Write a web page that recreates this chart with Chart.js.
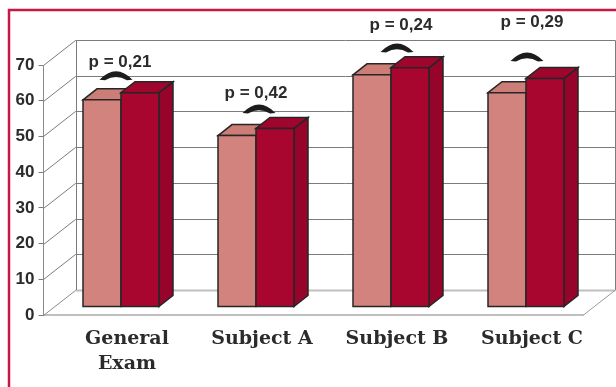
<!DOCTYPE html>
<html>
<head>
<meta charset="utf-8">
<script src="https://cdn.jsdelivr.net/npm/chart.js@4.4.1/dist/chart.umd.min.js"></script>
<style>
  html, body { margin: 0; padding: 0; background: #ffffff; }
  #wrap { width: 616px; height: 387px; position: relative; }
</style>
</head>
<body>
<div id="wrap"><canvas id="chart" width="616" height="387"></canvas></div>
<script>
// Scores per category for the two groups, with the p-value of each comparison
const categories = [['General', 'Exam'], 'Subject A', 'Subject B', 'Subject C'];
const groupLight = [58, 48, 65, 60];
const groupDark = [60, 50, 67, 64];
const pValues = ['p = 0,21', 'p = 0,42', 'p = 0,24', 'p = 0,29'];
const yMin = 0;
const yMax = 70;
const yStep = 10;

// 3D geometry (pixels): back wall offset, bar plane offset, bar depth
const WALL = { dx: 32, dy: -25 };
const BAR_PLANE = { dx: 10, dy: -8 };
const BAR_DEPTH = { dx: 14, dy: -11 };

const COLORS = {
  frame: '#c41a45',
  grid: '#7c7c7c',
  floor: '#bfbfbf',
  outline: '#262626',
  text: '#2b2b2b',
  light: { front: '#d3837d', top: '#cc7d76', side: '#c27068' },
  dark: { front: '#a8062f', top: '#a0052e', side: '#96042b' }
};

function line(ctx, x0, y0, x1, y1, color, width) {
  ctx.beginPath();
  ctx.moveTo(x0, y0);
  ctx.lineTo(x1, y1);
  ctx.strokeStyle = color;
  ctx.lineWidth = width;
  ctx.stroke();
}

function poly(ctx, pts, fill) {
  ctx.beginPath();
  ctx.moveTo(pts[0][0], pts[0][1]);
  for (let i = 1; i < pts.length; i++) ctx.lineTo(pts[i][0], pts[i][1]);
  ctx.closePath();
  ctx.fillStyle = fill;
  ctx.fill();
  ctx.strokeStyle = COLORS.outline;
  ctx.lineWidth = 1.5;
  ctx.stroke();
}

// Draws one bar as a box: front face, top face and (optionally) right face
function drawBox(ctx, x0, x1, yTop, yBase, pal, withSide) {
  const { dx, dy } = BAR_DEPTH;
  if (withSide) {
    poly(ctx, [[x1, yBase], [x1 + dx, yBase + dy], [x1 + dx, yTop + dy], [x1, yTop]], pal.side);
  }
  poly(ctx, [[x0, yTop], [x0 + dx, yTop + dy], [x1 + dx, yTop + dy], [x1, yTop]], pal.top);
  poly(ctx, [[x0, yTop], [x1, yTop], [x1, yBase], [x0, yBase]], pal.front);
}

// Curved bracket above a pair of bars
function drawBracket(ctx, cx, by) {
  ctx.beginPath();
  ctx.moveTo(cx - 16.5, by);
  ctx.quadraticCurveTo(cx, by - 17, cx + 16.5, by);
  ctx.lineTo(cx + 11, by + 0.5);
  ctx.quadraticCurveTo(cx, by - 6, cx - 11, by + 0.5);
  ctx.closePath();
  ctx.fillStyle = '#1c1c1c';
  ctx.fill();
}

const box3d = {
  id: 'box3d',
  beforeDraw(chart) {
    const ctx = chart.ctx;
    ctx.save();
    ctx.fillStyle = '#ffffff';
    ctx.fillRect(0, 0, chart.width, chart.height);
    ctx.restore();
  },
  beforeDatasetsDraw(chart) {
    const ctx = chart.ctx;
    const y = chart.scales.y;
    const area = chart.chartArea;
    const bx0 = area.left + WALL.dx;
    const bx1 = area.right + WALL.dx;
    ctx.save();
    ctx.lineCap = 'butt';
    // back wall gridlines and left wall diagonals
    for (let v = yMin; v <= yMax; v += yStep) {
      const yf = Math.round(y.getPixelForValue(v)) + 0.5;
      const yb = yf + WALL.dy;
      if (v === yMin) {
        line(ctx, bx0, yb, bx1, yb, COLORS.floor, 2);
        line(ctx, area.left, yf, bx0, yb, '#8c8c8c', 1);
      } else {
        line(ctx, bx0, yb, bx1, yb, COLORS.grid, 1);
        line(ctx, area.left, yf, bx0, yb, COLORS.grid, 1);
      }
    }
    const top = Math.round(y.getPixelForValue(yMax)) + 0.5 + WALL.dy;
    const bot = Math.round(y.getPixelForValue(yMin)) + WALL.dy;
    line(ctx, Math.round(bx0) + 0.5, top, Math.round(bx0) + 0.5, bot, COLORS.grid, 1);
    line(ctx, Math.round(bx1) - 0.5, top, Math.round(bx1) - 0.5, bot, COLORS.grid, 1);
    // right edge of the floor
    line(ctx, area.right, area.bottom, bx1, area.bottom + WALL.dy, '#9a9a9a', 1);
    ctx.restore();
  },
  afterDatasetsDraw(chart, args, opts) {
    const ctx = chart.ctx;
    const y = chart.scales.y;
    const light = chart.getDatasetMeta(0).data;
    const dark = chart.getDatasetMeta(1).data;
    ctx.save();
    ctx.lineJoin = 'miter';
    for (let i = 0; i < light.length; i++) {
      const a = light[i].getProps(['x', 'y', 'base', 'width'], true);
      const b = dark[i].getProps(['x', 'y', 'base', 'width'], true);
      const off = (p) => ({
        x0: p.x - p.width / 2 + BAR_PLANE.dx,
        x1: p.x + p.width / 2 + BAR_PLANE.dx,
        top: p.y + BAR_PLANE.dy,
        base: p.base + BAR_PLANE.dy
      });
      const la = off(a), lb = off(b);
      drawBox(ctx, la.x0, la.x1, la.top, la.base, COLORS.light, false);
      drawBox(ctx, lb.x0, lb.x1, lb.top, lb.base, COLORS.dark, true);

      // p-value annotation
      const ann = opts.annotations[i];
      const cx = la.x1;
      const arcY = y.getPixelForValue(ann.arcAt) + BAR_PLANE.dy;
      drawBracket(ctx, cx + ann.arcDx, arcY);
      ctx.font = 'bold 17px "Liberation Sans", Arial, sans-serif';
      ctx.fillStyle = COLORS.text;
      ctx.textAlign = 'center';
      ctx.textBaseline = 'middle';
      ctx.fillText(pValues[i], cx + ann.labelDx, y.getPixelForValue(ann.labelAt) + BAR_PLANE.dy);
    }
    ctx.restore();
  },
  afterDraw(chart) {
    const ctx = chart.ctx;
    ctx.save();
    ctx.strokeStyle = COLORS.frame;
    ctx.lineWidth = 2.5;
    ctx.beginPath();
    ctx.moveTo(9, chart.height + 2);
    ctx.lineTo(9, 10);
    ctx.lineTo(chart.width + 2, 10);
    ctx.stroke();
    ctx.restore();
  }
};

new Chart(document.getElementById('chart'), {
  type: 'bar',
  data: {
    labels: categories,
    datasets: [
      { label: 'Group 1', data: groupLight, backgroundColor: 'rgba(0,0,0,0)', borderWidth: 0 },
      { label: 'Group 2', data: groupDark, backgroundColor: 'rgba(0,0,0,0)', borderWidth: 0 }
    ]
  },
  options: {
    responsive: false,
    animation: false,
    devicePixelRatio: 1,
    events: [],
    layout: { padding: { left: 0, right: 32.5, top: 65, bottom: 0 } },
    datasets: { bar: { barPercentage: 1, categoryPercentage: 0.563 } },
    plugins: {
      legend: { display: false },
      tooltip: { enabled: false },
      box3d: {
        annotations: [
          { arcAt: 63.6, arcDx: -5, labelAt: 68.6, labelDx: -1 },
          { arcAt: 54.3, arcDx: 3, labelAt: 59.9, labelDx: 0 },
          { arcAt: 71.4, arcDx: 6, labelAt: 79.0, labelDx: 10 },
          { arcAt: 68.9, arcDx: 1, labelAt: 79.8, labelDx: 6 }
        ]
      }
    },
    scales: {
      x: {
        afterFit: (s) => { s.height = 72; },
        grid: { display: false },
        border: { display: true, color: COLORS.floor, width: 2 },
        ticks: {
          color: COLORS.text,
          font: { family: '"DejaVu Serif", serif', weight: 'bold', size: 19, lineHeight: 1.3 },
          padding: 4,
          labelOffset: 16,
          maxRotation: 0,
          autoSkip: false
        }
      },
      y: {
        min: yMin,
        max: yMax,
        afterFit: (s) => { s.width = 43.5; },
        grid: { drawOnChartArea: false, drawTicks: true, tickLength: 5, color: COLORS.grid },
        border: { display: true, color: '#8a8a8a', width: 1 },
        ticks: {
          stepSize: yStep,
          padding: 4,
          color: COLORS.text,
          font: { family: '"Liberation Sans", Arial, sans-serif', weight: 'bold', size: 17 }
        }
      }
    }
  },
  plugins: [box3d]
});
</script>
</body>
</html>
